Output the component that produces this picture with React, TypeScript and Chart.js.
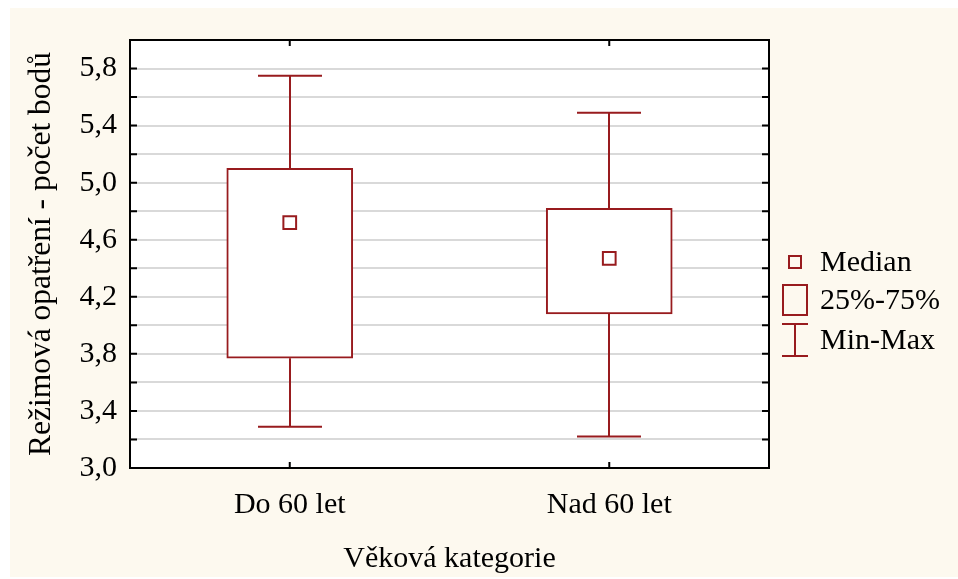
import React, { useEffect, useRef } from 'react';
import { Chart, registerables } from 'chart.js';

Chart.register(...registerables);

const categories = ['Do 60 let', 'Nad 60 let'];
const medians = [4.72, 4.47];
const q1 = [3.77, 4.08];
const q3 = [5.1, 4.82];
const mins = [3.29, 3.22];
const maxs = [5.75, 5.49];
const yMin = 3.0;
const yMax = 6.0;
const yStep = 0.2;
const yLabelValues = [3.0, 3.4, 3.8, 4.2, 4.6, 5.0, 5.4, 5.8];
const yTitle = 'Režimová opatření - počet bodů';
const xTitle = 'Věková kategorie';
const legendLabels = ['Median', '25%-75%', 'Min-Max'];

const RED = '#981b1e';
const FONT = '"Liberation Serif", "Times New Roman", serif';
const FS = 30;

const bgPlugin = {
  id: 'bg',
  beforeDraw(chart: any) {
    const ctx = chart.ctx;
    ctx.save();
    ctx.fillStyle = '#ffffff';
    ctx.fillRect(0, 0, chart.width, chart.height);
    ctx.fillStyle = '#fdf9ef';
    ctx.fillRect(10, 8, chart.width - 10, chart.height - 10);
    ctx.fillStyle = '#ffffff';
    const a = chart.chartArea;
    ctx.fillRect(a.left, a.top, a.right - a.left, a.bottom - a.top);
    ctx.restore();
  },
};

const whiskerPlugin = {
  id: 'whiskers',
  beforeDatasetsDraw(chart: any) {
    const ctx = chart.ctx;
    const xs = chart.scales.x;
    const ys = chart.scales.y;
    ctx.save();
    ctx.strokeStyle = RED;
    ctx.lineWidth = 2;
    categories.forEach((_, i) => {
      const x = Math.round(xs.getPixelForValue(i));
      const yMaxP = ys.getPixelForValue(maxs[i]);
      const yQ3 = ys.getPixelForValue(q3[i]);
      const yQ1 = ys.getPixelForValue(q1[i]);
      const yMinP = ys.getPixelForValue(mins[i]);
      const half = 32;
      ctx.beginPath();
      ctx.moveTo(x, yQ3);
      ctx.lineTo(x, yMaxP);
      ctx.moveTo(x - half, yMaxP);
      ctx.lineTo(x + half, yMaxP);
      ctx.moveTo(x, yQ1);
      ctx.lineTo(x, yMinP);
      ctx.moveTo(x - half, yMinP);
      ctx.lineTo(x + half, yMinP);
      ctx.stroke();
    });
    ctx.restore();
  },
};

const framePlugin = {
  id: 'frame',
  afterDraw(chart: any) {
    const ctx = chart.ctx;
    const a = chart.chartArea;
    const xs = chart.scales.x;
    const ys = chart.scales.y;
    ctx.save();
    ctx.strokeStyle = '#000000';
    ctx.lineWidth = 2;
    ctx.strokeRect(a.left, a.top, a.right - a.left, a.bottom - a.top);
    ctx.beginPath();
    ys.ticks.forEach((t: any) => {
      const y = ys.getPixelForValue(t.value);
      ctx.moveTo(a.left, y);
      ctx.lineTo(a.left + 7, y);
      ctx.moveTo(a.right, y);
      ctx.lineTo(a.right - 7, y);
    });
    categories.forEach((_, i) => {
      const x = xs.getPixelForValue(i);
      ctx.moveTo(x, a.top);
      ctx.lineTo(x, a.top + 6);
      ctx.moveTo(x, a.bottom);
      ctx.lineTo(x, a.bottom - 6);
    });
    ctx.stroke();

    // legend
    const lx = a.right + 26;
    const tx = a.right + 51;
    const mid = (a.top + a.bottom) / 2;
    const rows = [mid + 8, mid + 46, mid + 86];
    ctx.strokeStyle = RED;
    ctx.lineWidth = 2;
    ctx.strokeRect(lx - 6, rows[0] - 6, 12, 12);
    ctx.strokeRect(lx - 12, rows[1] - 15, 24, 30);
    ctx.beginPath();
    ctx.moveTo(lx - 13, rows[2] - 16);
    ctx.lineTo(lx + 13, rows[2] - 16);
    ctx.moveTo(lx, rows[2] - 16);
    ctx.lineTo(lx, rows[2] + 16);
    ctx.moveTo(lx - 13, rows[2] + 16);
    ctx.lineTo(lx + 13, rows[2] + 16);
    ctx.stroke();
    ctx.fillStyle = '#000000';
    ctx.font = `${FS}px ${FONT}`;
    ctx.textBaseline = 'middle';
    ctx.textAlign = 'left';
    legendLabels.forEach((l, i) => ctx.fillText(l, tx, rows[i] + 1));
    ctx.restore();
  },
};

export default function App() {
  const ref = useRef<HTMLCanvasElement | null>(null);
  useEffect(() => {
    if (!ref.current) return;
    const chart = new Chart(ref.current, {
      type: 'bar',
      data: {
        labels: categories,
        datasets: [
          {
            type: 'line',
            label: legendLabels[0],
            data: medians,
            showLine: false,
            pointStyle: 'rect',
            pointRadius: 9,
            pointBackgroundColor: '#ffffff',
            pointBorderColor: RED,
            pointBorderWidth: 2,
            order: 0,
          } as any,
          {
            type: 'bar',
            label: legendLabels[1],
            data: q1.map((v, i) => [v, q3[i]]),
            backgroundColor: '#ffffff',
            borderColor: RED,
            borderWidth: 2,
            borderSkipped: false,
            barThickness: 126,
            grouped: false,
            order: 1,
          } as any,
        ],
      },
      options: {
        animation: false,
        responsive: false,
        devicePixelRatio: 1,
        layout: { padding: { top: 40, right: 189, left: 0, bottom: 0 } },
        plugins: { legend: { display: false }, tooltip: { enabled: false } },
        scales: {
          x: {
            type: 'category',
            offset: true,
            grid: { display: false },
            border: { display: false },
            ticks: { color: '#000', font: { family: FONT, size: FS }, padding: 11 },
            title: {
              display: true,
              text: xTitle,
              color: '#000',
              font: { family: FONT, size: FS },
              padding: { top: 0, bottom: 2 },
            },
            afterFit: (s: any) => {
              s.height = 111;
            },
          },
          y: {
            type: 'linear',
            min: yMin,
            max: yMax,
            ticks: {
              stepSize: yStep,
              autoSkip: false,
              color: '#000',
              font: { family: FONT, size: FS },
              padding: 13,
              callback: (v: any) => {
                const n = Math.round(Number(v) * 10) / 10;
                return yLabelValues.some((l) => Math.abs(l - n) < 1e-6) ? n.toFixed(1).replace('.', ',') : '';
              },
            },
            grid: { color: '#d9d9d9', lineWidth: 2, drawTicks: false },
            border: { display: false },
            title: {
              display: true,
              text: yTitle,
              color: '#000',
              font: { family: FONT, size: 31.5 },
              padding: { top: 23, bottom: 0 },
            },
            afterFit: (s: any) => {
              s.width = 130;
            },
          },
        },
      } as any,
      plugins: [bgPlugin, whiskerPlugin, framePlugin],
    });
    return () => chart.destroy();
  }, []);
  return (
    <div style={{ position: 'fixed', left: 0, top: 0, width: 958, height: 579 }}>
      <canvas ref={ref} width={958} height={579} style={{ display: 'block' }} />
    </div>
  );
}
